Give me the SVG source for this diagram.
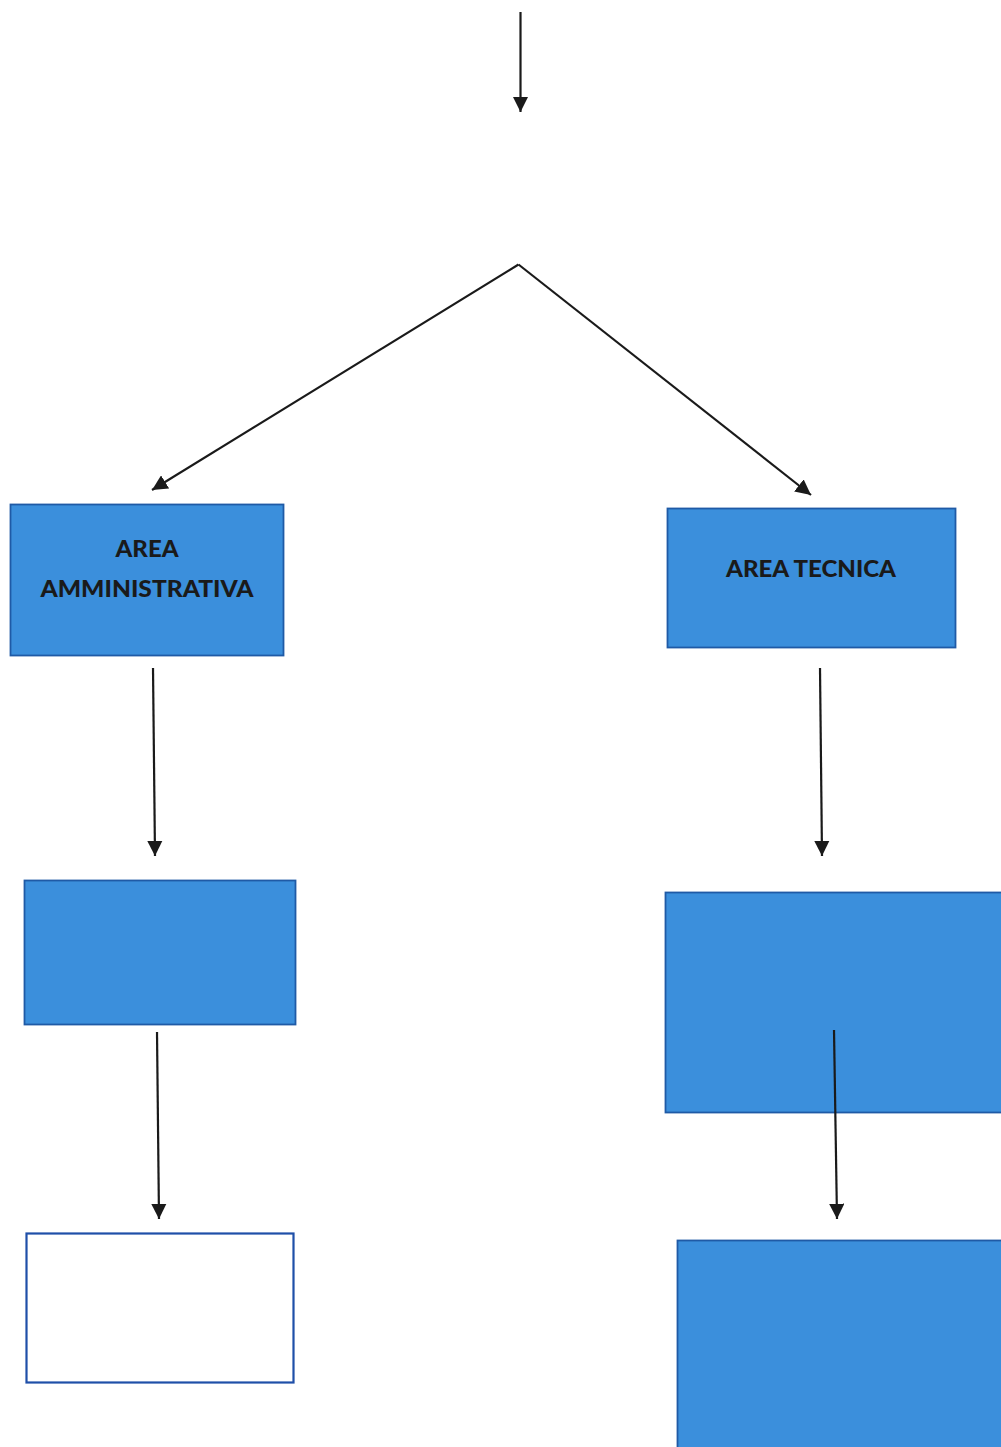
<svg xmlns="http://www.w3.org/2000/svg" width="1001" height="1447" viewBox="0 0 1001 1447">
<style>
.box{fill:#3b8fdc;stroke:#1f5aa6;stroke-width:1.8}
.wbox{fill:#ffffff;stroke:#1f4fa8;stroke-width:2.2}
.lbl{font-family:Lato,"Open Sans",sans-serif;font-weight:900;font-size:23px;fill:#1a1a1a;text-anchor:middle}
.c{stroke:#1a1a1a;stroke-width:2.2;fill:none;marker-end:url(#ah)}
</style>
<defs>
<marker id="ah" viewBox="0 0 10 10" refX="10" refY="5" markerWidth="7" markerHeight="7" markerUnits="strokeWidth" orient="auto">
<path d="M0,0 L10,5 L0,10 z" fill="#1a1a1a"/>
</marker>
</defs>
<rect width="1001" height="1447" fill="#ffffff"/>
<g id="area-amministrativa">
<rect class="box" x="10.5" y="504.5" width="273" height="151"/>
<text class="lbl" x="147" y="557" textLength="63" lengthAdjust="spacingAndGlyphs">AREA</text>
<text class="lbl" x="147" y="597" textLength="213" lengthAdjust="spacingAndGlyphs">AMMINISTRATIVA</text>
</g>
<g id="area-tecnica">
<rect class="box" x="667.5" y="508.5" width="288" height="139"/>
<text class="lbl" x="811" y="577" textLength="170" lengthAdjust="spacingAndGlyphs">AREA TECNICA</text>
</g>
<g id="box-left-2">
<rect class="box" x="24.5" y="880.5" width="271" height="144"/>
</g>
<g id="box-right-2">
<rect class="box" x="665.5" y="892.5" width="340" height="220"/>
</g>
<g id="box-left-3">
<rect class="wbox" x="26.5" y="1233.5" width="267" height="149"/>
</g>
<g id="box-right-3">
<rect class="box" x="677.5" y="1240.5" width="330" height="215"/>
</g>
<g id="connectors">
<line class="c" x1="520.5" y1="12" x2="520.5" y2="112"/>
<line class="c" x1="518.5" y1="264.5" x2="152" y2="490"/>
<line class="c" x1="518.5" y1="264.5" x2="811" y2="495"/>
<line class="c" x1="153" y1="668" x2="155" y2="856"/>
<line class="c" x1="820" y1="668" x2="822" y2="856"/>
<line class="c" x1="157" y1="1032" x2="159" y2="1219"/>
<line class="c" x1="834" y1="1030" x2="837" y2="1219"/>
</g>
</svg>
